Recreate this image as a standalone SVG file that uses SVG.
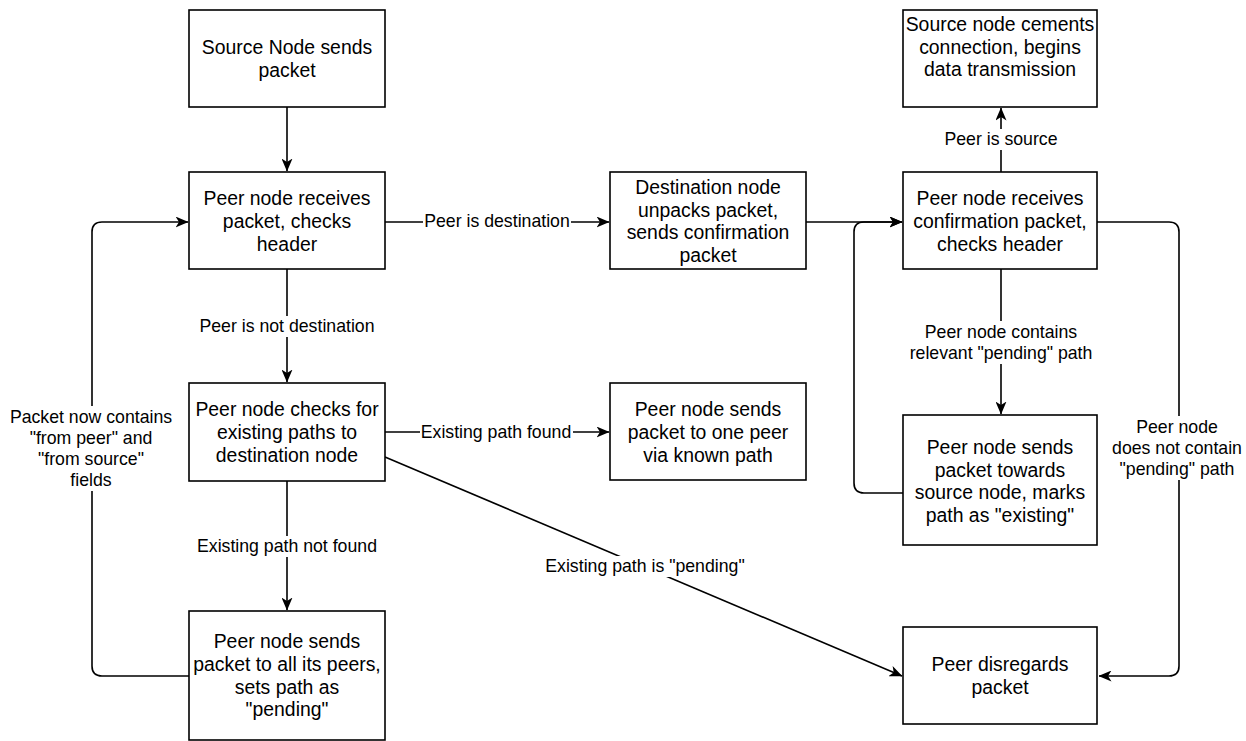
<svg xmlns="http://www.w3.org/2000/svg" width="1246" height="741" viewBox="0 0 1246 741">
<style>
.box{fill:#fff;stroke:#000;stroke-width:1.6}
.nt{font-family:"Liberation Sans",Arial,sans-serif;font-size:19.4px;fill:#000;text-anchor:middle;dominant-baseline:central}
.lt{font-family:"Liberation Sans",Arial,sans-serif;font-size:17.7px;fill:#000;text-anchor:middle;dominant-baseline:central}
.edge{fill:none;stroke:#000;stroke-width:1.6;marker-end:url(#arr)}
.lbg{fill:#fff;stroke:none}
</style>
<defs>
<marker id="arr" viewBox="0 0 13 11" refX="12.5" refY="5.5" markerWidth="13" markerHeight="11" markerUnits="userSpaceOnUse" orient="auto">
<path d="M0,0 L13,5.5 L0,11 L3.5,5.5 Z" fill="#000"/>
</marker>
</defs>
<rect width="1246" height="741" fill="#fff"/>
<g id="connectors">
<path class="edge" d="M287,107 L287,171"/>
<path class="edge" d="M385,222 L609,222"/>
<path class="edge" d="M806,222 L902,222"/>
<path class="edge" d="M1001,172 L1001,108"/>
<path class="edge" d="M287,269 L287,382"/>
<path class="edge" d="M385,432 L609,432"/>
<path class="edge" d="M385,457 L902,676"/>
<path class="edge" d="M287,481 L287,610"/>
<path class="edge" d="M189,676 L102,676 Q92,676 92,666 L92,232 Q92,222 102,222 L188,222"/>
<path class="edge" d="M1001,269 L1001,414"/>
<path class="edge" d="M903,493 L864,493 Q854,493 854,483 L854,232 Q854,222 864,222 L902,222"/>
<path class="edge" d="M1097,222 L1169,222 Q1179,222 1179,232 L1179,666 Q1179,676 1169,676 L1099,676"/>
<g id="edge-labels">
<rect class="lbg" x="423" y="211" width="148" height="21"/>
<text class="lt" x="497" y="221">Peer is destination</text>
<rect class="lbg" x="940" y="129" width="122" height="21"/>
<text class="lt" x="1001" y="139">Peer is source</text>
<rect class="lbg" x="196" y="316" width="182" height="21"/>
<text class="lt" x="287" y="326">Peer is not destination</text>
<rect class="lbg" x="420" y="422" width="153" height="21"/>
<text class="lt" x="496" y="432">Existing path found</text>
<rect class="lbg" x="540" y="556" width="210" height="21"/>
<text class="lt" x="645" y="566">Existing path is "pending"</text>
<rect class="lbg" x="193" y="536" width="188" height="21"/>
<text class="lt" x="287" y="546">Existing path not found</text>
<rect class="lbg" x="8" y="406" width="166" height="85"/>
<text class="lt" x="91" y="417">Packet now contains</text>
<text class="lt" x="91" y="438">"from peer" and</text>
<text class="lt" x="91" y="459">"from source"</text>
<text class="lt" x="91" y="480">fields</text>
<rect class="lbg" x="907" y="321" width="190" height="43"/>
<text class="lt" x="1001" y="332">Peer node contains</text>
<text class="lt" x="1001" y="353">relevant "pending" path</text>
<rect class="lbg" x="1110" y="416" width="134" height="64"/>
<text class="lt" x="1177" y="427">Peer node</text>
<text class="lt" x="1177" y="448">does not contain</text>
<text class="lt" x="1177" y="469">"pending" path</text>
</g>
</g>
<g id="n1">
<rect class="box" x="189" y="10" width="196" height="97"/>
<text class="nt" x="287" y="47">Source Node sends</text>
<text class="nt" x="287" y="70">packet</text>
</g>
<g id="n2">
<rect class="box" x="189" y="172" width="196" height="97"/>
<text class="nt" x="287" y="198">Peer node receives</text>
<text class="nt" x="287" y="221">packet, checks</text>
<text class="nt" x="287" y="243.5">header</text>
</g>
<g id="n3">
<rect class="box" x="610" y="172" width="196" height="97"/>
<text class="nt" x="708" y="187">Destination node</text>
<text class="nt" x="708" y="209.5">unpacks packet,</text>
<text class="nt" x="708" y="232">sends confirmation</text>
<text class="nt" x="708" y="254.5">packet</text>
</g>
<g id="n4">
<rect class="box" x="903" y="172" width="194" height="97"/>
<text class="nt" x="1000" y="198">Peer node receives</text>
<text class="nt" x="1000" y="221">confirmation packet,</text>
<text class="nt" x="1000" y="243.5">checks header</text>
</g>
<g id="n5">
<rect class="box" x="903" y="10" width="194" height="97"/>
<text class="nt" x="1000" y="24">Source node cements</text>
<text class="nt" x="1000" y="46.5">connection, begins</text>
<text class="nt" x="1000" y="69">data transmission</text>
</g>
<g id="n6">
<rect class="box" x="189" y="383" width="196" height="98"/>
<text class="nt" x="287" y="409">Peer node checks for</text>
<text class="nt" x="287" y="432">existing paths to</text>
<text class="nt" x="287" y="455">destination node</text>
</g>
<g id="n7">
<rect class="box" x="610" y="383" width="196" height="97"/>
<text class="nt" x="708" y="409">Peer node sends</text>
<text class="nt" x="708" y="432">packet to one peer</text>
<text class="nt" x="708" y="455">via known path</text>
</g>
<g id="n8">
<rect class="box" x="903" y="415" width="194" height="130"/>
<text class="nt" x="1000" y="447">Peer node sends</text>
<text class="nt" x="1000" y="469.5">packet towards</text>
<text class="nt" x="1000" y="492">source node, marks</text>
<text class="nt" x="1000" y="514.5">path as "existing"</text>
</g>
<g id="n9">
<rect class="box" x="189" y="611" width="196" height="129"/>
<text class="nt" x="287" y="641">Peer node sends</text>
<text class="nt" x="287" y="664">packet to all its peers,</text>
<text class="nt" x="287" y="687">sets path as</text>
<text class="nt" x="287" y="709">"pending"</text>
</g>
<g id="n10">
<rect class="box" x="903" y="627" width="194" height="97"/>
<text class="nt" x="1000" y="664">Peer disregards</text>
<text class="nt" x="1000" y="687">packet</text>
</g>
</svg>
